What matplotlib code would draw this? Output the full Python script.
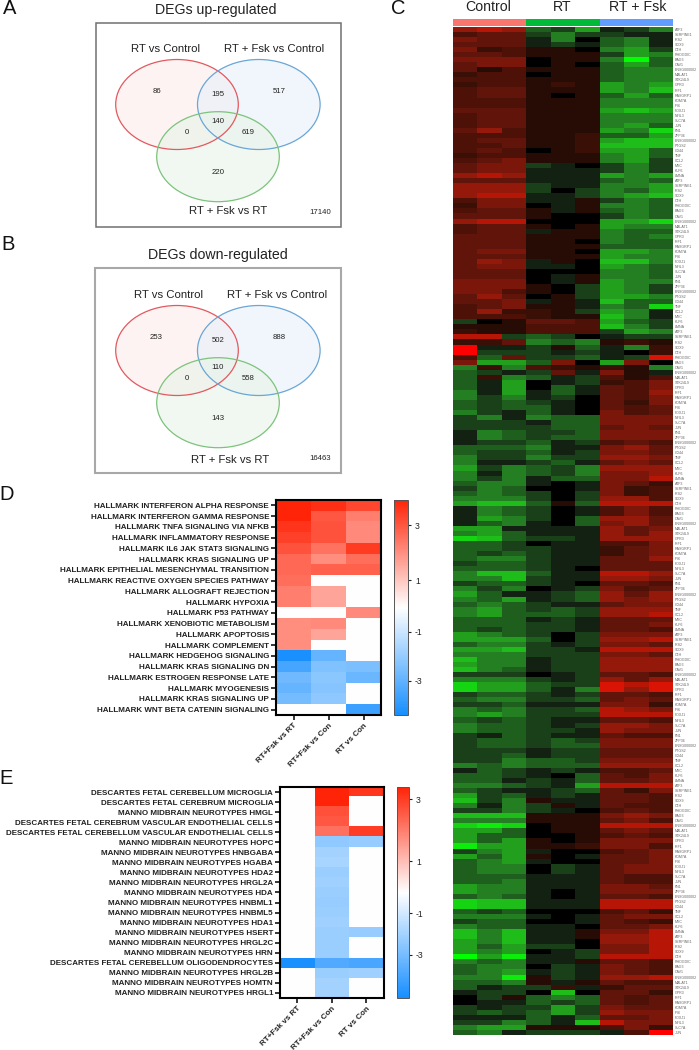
import matplotlib
matplotlib.use("Agg")
import matplotlib.pyplot as plt
import numpy as np
from matplotlib.colors import LinearSegmentedColormap, TwoSlopeNorm
from matplotlib.patches import Ellipse, Rectangle

plt.rcParams['font.family'] = ['Liberation Sans', 'DejaVu Sans']

W, H = 699, 1050

# ---------- Panels A / B ----------
venn_names = ["RT vs Control", "RT + Fsk vs Control", "RT + Fsk vs RT"]
venn_up = [86, 517, 195, 140, 0, 619, 220]
venn_up_total = "17140"
venn_down = [253, 888, 502, 110, 0, 558, 143]
venn_down_total = "16463"

# ---------- Panel D ----------
conditions = ["RT+Fsk vs RT", "RT+Fsk vs Con", "RT vs Con"]
hallmark_terms = [
    "HALLMARK INTERFERON ALPHA RESPONSE", "HALLMARK INTERFERON GAMMA RESPONSE",
    "HALLMARK TNFA SIGNALING VIA NFKB", "HALLMARK INFLAMMATORY RESPONSE",
    "HALLMARK IL6 JAK STAT3 SIGNALING", "HALLMARK KRAS SIGNALING UP",
    "HALLMARK EPITHELIAL MESENCHYMAL TRANSITION", "HALLMARK REACTIVE OXYGEN SPECIES PATHWAY",
    "HALLMARK ALLOGRAFT REJECTION", "HALLMARK HYPOXIA", "HALLMARK P53 PATHWAY",
    "HALLMARK XENOBIOTIC METABOLISM", "HALLMARK APOPTOSIS", "HALLMARK COMPLEMENT",
    "HALLMARK HEDGEHOG SIGNALING", "HALLMARK KRAS SIGNALING DN",
    "HALLMARK ESTROGEN RESPONSE LATE", "HALLMARK MYOGENESIS",
    "HALLMARK KRAS SIGNALING UP", "HALLMARK WNT BETA CATENIN SIGNALING",
]
hallmark_rt_fsk_vs_rt = [3.9, 3.9, 3.6, 3.4, 3.1, 2.7, 2.7, 2.6, 2.3, 2.3, 0, 2.0, 2.0, 2.0, -4.3, -3.5, -2.7, -2.9, -2.6, 0]
hallmark_rt_fsk_vs_con = [3.7, 3.0, 3.1, 3.1, 2.5, 2.0, 2.8, 0, 1.6, 1.6, 0, 2.1, 1.6, 0, -2.9, -2.4, -2.2, -2.3, -2.1, 0]
hallmark_rt_vs_con = [3.3, 2.3, 2.1, 2.1, 3.5, 2.6, 2.8, 0, 0, 0, 2.1, 0, 0, 0, 0, -2.5, -2.8, 0, 0, -3.7]

# ---------- Panel E ----------
cell_terms = [
    "DESCARTES FETAL CEREBELLUM MICROGLIA", "DESCARTES FETAL CEREBRUM MICROGLIA",
    "MANNO MIDBRAIN NEUROTYPES HMGL", "DESCARTES FETAL CEREBRUM VASCULAR ENDOTHELIAL CELLS",
    "DESCARTES FETAL CEREBELLUM VASCULAR ENDOTHELIAL CELLS", "MANNO MIDBRAIN NEUROTYPES HOPC",
    "MANNO MIDBRAIN NEUROTYPES HNBGABA", "MANNO MIDBRAIN NEUROTYPES HGABA",
    "MANNO MIDBRAIN NEUROTYPES HDA2", "MANNO MIDBRAIN NEUROTYPES HRGL2A",
    "MANNO MIDBRAIN NEUROTYPES HDA", "MANNO MIDBRAIN NEUROTYPES HNBML1",
    "MANNO MIDBRAIN NEUROTYPES HNBML5", "MANNO MIDBRAIN NEUROTYPES HDA1",
    "MANNO MIDBRAIN NEUROTYPES HSERT", "MANNO MIDBRAIN NEUROTYPES HRGL2C",
    "MANNO MIDBRAIN NEUROTYPES HRN", "DESCARTES FETAL CEREBELLUM OLIGODENDROCYTES",
    "MANNO MIDBRAIN NEUROTYPES HRGL2B", "MANNO MIDBRAIN NEUROTYPES HOMTN",
    "MANNO MIDBRAIN NEUROTYPES HRGL1",
]
cell_rt_fsk_vs_rt = [0, 0, 0, 0, 0, 0, 0, 0, 0, 0, 0, 0, 0, 0, 0, 0, 0, -5.0, 0, 0, 0]
cell_rt_fsk_vs_con = [3.4, 3.4, 2.7, 2.6, 2.2, -2.4, -2.0, -1.9, -2.2, -2.1, -2.2, -2.3, -2.2, -2.1, -2.2, -2.2, -2.2, -3.8, -2.2, -2.0, -2.0]
cell_rt_vs_con = [3.1, 0, 0, 0, 3.0, -2.3, 0, 0, 0, 0, 0, 0, 0, 0, -2.3, 0, 0, -4.0, -2.1, 0, 0]

# ---------- Panel C: one string per gene, nine samples.
# digit = red level (1-9), letter a-i = green level (1-9), 0 = black
group_names = ["Control", "RT", "RT + Fsk"]
expression_rows = [
"676cbeabd","344bdbbaa","544ad0cda","444abacda","523110deb","443111bed","555011dic","455010cec","413111cdd","233011cdd",
"333111cdd","233121ede","344111edf","344101cec","333111ddd","333111ddd","444111efe","344111ddd","344111ddd","344111dec",
"463111edg","333112cce","344112eff","334112fff","343012eec","233111dec","345111deb","455ba0bdb","455aaabdb","676aaaede",
"444aaacdc","666baadde","666b0bdce","677aabdef",
"355aa1bdc","2550a1ddc","3441a1cdc","444100bdc","677000eeg","344101edd","344a11dcc","444111dcd","444110dcc","444111ccc",
"455110eed","444111edd","465a10ffd","455aa0edc","444000ddc","4440a1ddc","5550a1edd","55510bedb","55310bedb","46401beed",
"445a1afcc","34511adcg","36221beda","333211fda","b01443ecb","111333fdb","211333bed","77bcb0abb","224dcd121","9aab1cad2",
"9bbbaba02","3c4bbcab8","5eec50e50",
"d2d32121d","cbab4a51a","c2dcab313","cae0ab235","cae0ca435","daeaca436","dbdab0435","cbcba0425","cbcca0434",
"dbaca0534","bdadcc555","bbbacc555","bbbbcc454","adcbbc555","adcbcc555","abbcab343","cccdaa564","cbbcab554","dbbdbb665",
"daabca454","ebdcbd666","dadcbd556","dbdacc557","cdda0a542","bdc00a523","cdcb0b523","dddb0b663","effc1c777","adcb0a353",
"adcb0a353","aedb0c664","acda0c564","eeaaaa645","decaaa646",
"gfcbba666","ccb0aa335","ccbbaa245","cbcbaa245","cddbaa446","bccbaa444","cccba0444","dffcaa776","ddfbaa665","bccba0443",
"dbd0ab534","ecaabc646","dceabc656","cdcbaa455","decbcb666","decccb667","cccaba444","cccbba445","cbcbba443","edcb0b555",
"eeec0b667","cddbab554","eefbba777","dddbbb554","fddabb666","eddabb666","fdcabb666","bbb0ab443","dddbab646","geecbb878",
"geecad868","bccbab443","cddbbc454",
"bbcaaa552","dcdbbc765","dedbbb777","cbcbaa443","dccbab665","dccbba655","bacbaa433","bccbcb555","bccbcc555","bbbabb444",
"bbcabb444","bbdccb555","dcdccc666","acbaba334","ccba0c435","ccabac445","ddcbae777","cbaabc425","ebcaba443","fbd1aa443",
"dadb1a433","bbdba0343","fff111565","ddd111453","ghg011777","eec011454","ecc001343","ece101555","hee112553","bdea00345",
"ece10a445","cdea00445","cdd0ba455","cdd0ba455",
"cccaaa433","ccdaaa433","eddaaa554","edda0a555","cdca0a443","gffaaa777","gffaaa777","cbc000342","ddda0a455","bcc00a432",
"dccaa0445","fdfaa1557","fdfaa1667","edfaa0667","ecebb0557","ede0ab557","iehaab777","dcdaa1443","cdd0ba543","cdeaba543",
"ddh1ba667","ccd1a1433","cabb2a244","abb0f0442","0b1cdc434","0aacbc434","babbeb544","bcbceb655","aaacac445","bbdcaf755",
"dee111352","cdabbba39",
]
# Labels in the source are about 3 px tall and only partly legible: approximate tokens.
gene_label_tokens = ["ATF3", "SERPINE1", "IRS2", "SOX9", "CTH", "RHOGDIC", "BAG3", "CAV1",
                     "ENSG000002", "MALAT1", "STK24L9", "GPR3", "IRF1", "RASGRP1", "KDM7A",
                     "IFI6", "FOXJ1", "NFIL3", "SLC7A", "JUN", "FN1", "ZFP36", "ENSG000002",
                     "PTGS2", "CD44", "TNF", "CCL2", "MYC", "KLF6", "LMNA"]

KEY_GREEN = "abcdefghi"
def level(ch):
    if ch.isdigit():
        return int(ch)
    return -(KEY_GREEN.index(ch) + 1)

expr = np.array([[level(c) for c in row] for row in expression_rows], dtype=float)
gene_labels = (gene_label_tokens * 10)[:len(expression_rows)]

fig = plt.figure(figsize=(W / 100, H / 100), dpi=100, facecolor="white")
bg = fig.add_axes([0, 0, 1, 1], zorder=0)
bg.set_xlim(0, W); bg.set_ylim(H, 0); bg.axis("off")

def axes_px(x0, y0, x1, y1):
    return fig.add_axes([x0 / W, 1 - y1 / H, (x1 - x0) / W, (y1 - y0) / H])

# panel letters
for letter, x, y in [("A", 10, 8), ("B", 8, 244), ("C", 398, 8), ("D", 7, 494), ("E", 6, 778)]:
    bg.text(x, y, letter, fontsize=14.5, ha="center", va="center", color="#111111")

def venn(frame, frame_color, frame_lw, yshift, title_xy, title, label_xy, vals, total, total_xy):
    x0, y0, x1, y1 = frame
    bg.add_patch(Rectangle((x0, y0), x1 - x0, y1 - y0, fill=False, ec=frame_color, lw=frame_lw))
    discs = [(177, 104.5, "#e2595f", "#fdecec"), (258.8, 104.5, "#6aa6d6", "#e6f1f9"),
             (218, 156.7, "#7cc37c", "#e8f4e8")]
    for cx, cy, ec, fc in discs:
        bg.add_patch(Ellipse((cx, cy + yshift), 122.6, 90, fc=fc, ec="none", alpha=0.6))
    for cx, cy, ec, fc in discs:
        bg.add_patch(Ellipse((cx, cy + yshift), 122.6, 90, fill=False, ec=ec, lw=0.9))
    bg.text(*title_xy, title, fontsize=10.2, ha="center", va="center", color="#222222")
    for name, xy in zip(venn_names, label_xy):
        bg.text(*xy, name, fontsize=8.2, ha="center", va="center", color="#222222")
    spots = [(156.5, 91.5), (279, 91.5), (218, 94.5), (218, 121.5), (187, 132), (248.5, 132), (218, 173)]
    for v, (sx, sy) in zip(vals, spots):
        bg.text(sx, sy + yshift, str(v), fontsize=5.6, ha="center", va="center", color="#222222")
    bg.text(*total_xy, total, fontsize=5.6, ha="center", va="center", color="#222222")

venn((95.5, 22.5, 340.5, 227), "#707070", 1.1, 0, (216, 10), "DEGs up-regulated",
     [(165.5, 49.5), (274, 49.5), (228, 211)], venn_up, venn_up_total, (320, 212))
venn((95, 268, 341, 473), "#a8a8a8", 1.5, 246, (217.7, 255), "DEGs down-regulated",
     [(168, 295), (277, 295), (230, 460)], venn_down, venn_down_total, (320, 458))

# ---------- Panel C ----------
def lv(n):
    return (n + 9) / 18
cm_rg = LinearSegmentedColormap.from_list("rg", [
    (lv(-9), (0.0, 1.0, 0.0)), (lv(-8), (0.05, 0.93, 0.05)), (lv(-6), (0.12, 0.74, 0.10)),
    (lv(-4), (0.14, 0.50, 0.13)), (lv(-2), (0.10, 0.25, 0.10)), (lv(-1), (0.07, 0.13, 0.07)),
    (lv(0), (0.0, 0.0, 0.0)), (lv(1), (0.15, 0.05, 0.02)), (lv(4), (0.38, 0.08, 0.04)),
    (lv(6), (0.58, 0.10, 0.04)), (lv(8), (0.85, 0.08, 0.02)), (lv(9), (1.0, 0.0, 0.0))])
ax = axes_px(453, 27, 673, 1035)
ax.imshow(expr, aspect="auto", cmap=cm_rg, vmin=-9, vmax=9, interpolation="nearest")
ax.set_xticks([])
ax.yaxis.tick_right()
ax.set_yticks(np.arange(len(gene_labels)))
ax.set_yticklabels(gene_labels, fontsize=2.6, color="#666666")
ax.tick_params(axis="y", length=0, pad=1.5)
for s in ax.spines.values():
    s.set_visible(False)

bar_colors = ["#F8766D", "#00BA38", "#619CFF"]
bar_ax = axes_px(453, 18.5, 673, 26)
bar_ax.set_xlim(0, 9); bar_ax.set_ylim(0, 1); bar_ax.axis("off")
for i, (c, name) in enumerate(zip(bar_colors, group_names)):
    bar_ax.bar(3 * i + 1.5, 1, width=3, color=c, align="center")
for name, x in zip(group_names, [488, 562, 638]):
    bg.text(x, 7, name, fontsize=10.2, ha="center", va="center", color="#222222")

# ---------- Panels D / E ----------
cm_bwr = LinearSegmentedColormap.from_list("bwr2", [(0.09, 0.56, 1.0), (1, 1, 1), (1.0, 0.14, 0.03)])

def enrich(rect, cbar_rect, terms, columns, vmin, vmax):
    data = np.array(columns).T
    norm = TwoSlopeNorm(vcenter=0, vmin=vmin, vmax=vmax)
    a = axes_px(*rect)
    im = a.imshow(data, aspect="auto", cmap=cm_bwr, norm=norm, interpolation="nearest")
    a.set_yticks(np.arange(len(terms)))
    a.set_yticklabels(terms, fontsize=5.75, fontweight="bold", color="#222222")
    a.set_xticks(np.arange(len(conditions)))
    a.set_xticklabels(conditions, fontsize=5.75, fontweight="bold", rotation=45, ha="right",
                      rotation_mode="anchor", color="#222222")
    a.tick_params(axis="both", length=3.5, width=1.1, pad=1.5)
    for s in a.spines.values():
        s.set_linewidth(1.5)
    c = axes_px(*cbar_rect)
    cb = fig.colorbar(im, cax=c)
    cb.set_ticks([3, 1, -1, -3])
    cb.set_ticklabels(["3", "1", "-1", "-3"])
    cb.ax.tick_params(labelsize=6.2, length=2.5, width=0.8, pad=2.5, colors="#222222")
    cb.outline.set_edgecolor("#555555")
    cb.outline.set_linewidth(0.7)

enrich((276, 500, 381, 715), (394, 500, 408, 715), hallmark_terms,
       [hallmark_rt_fsk_vs_rt, hallmark_rt_fsk_vs_con, hallmark_rt_vs_con], -4.4, 3.93)
enrich((280, 787, 383.5, 998), (397, 787, 409, 998), cell_terms,
       [cell_rt_fsk_vs_rt, cell_rt_fsk_vs_con, cell_rt_vs_con], -5.1, 3.4)

fig.savefig("out.png", dpi=100)
